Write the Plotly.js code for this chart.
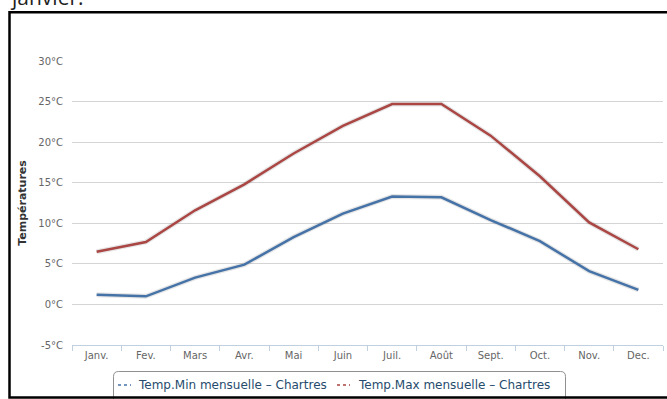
<!DOCTYPE html>
<html>
<head>
<meta charset="utf-8">
<script src="https://cdn.plot.ly/plotly-3.0.1.min.js"></script>
<style>
  html, body { margin: 0; padding: 0; background: #ffffff; }
  #chart { width: 667px; height: 399px; }
</style>
</head>
<body>
<div id="chart"></div>
<script>
// ---- data ----
const months = ['Janv.', 'Fev.', 'Mars', 'Avr.', 'Mai', 'Juin', 'Juil.', 'Août', 'Sept.', 'Oct.', 'Nov.', 'Dec.'];
const tempMin = [1.2, 1.0, 3.3, 4.9, 8.3, 11.2, 13.3, 13.2, 10.4, 7.8, 4.1, 1.8];
const tempMax = [6.5, 7.7, 11.6, 14.8, 18.6, 22.0, 24.7, 24.7, 20.8, 15.8, 10.1, 6.8];
const seriesNames = ['Temp.Min mensuelle – Chartres', 'Temp.Max mensuelle – Chartres'];
const yTicks = [-5, 0, 5, 10, 15, 20, 25, 30];
const yTickText = yTicks.map(v => v + '°C');
const pageText = 'janvier.';
const yTitle = 'Températures';

// ---- layout geometry (pixels) ----
const W = 667, H = 399;
const L = 72, R = 4, T = 61, B = 54;
const pw = W - L - R, ph = H - T - B;
const px = x => (x - L) / pw;          // pixel -> paper x
const py = y => (H - B - y) / ph;      // pixel -> paper y

const blue = '#4572A7', red = '#AA4643';
const colors = [blue, red];
const series = [tempMin, tempMax];

const traces = [];
// soft shadow under each line
series.forEach((s) => {
  traces.push({
    x: months, y: s, type: 'scatter', mode: 'lines',
    line: { color: 'rgba(0,0,0,0.10)', width: 5 },
    showlegend: false, hoverinfo: 'skip'
  });
});
series.forEach((s, i) => {
  traces.push({
    x: months, y: s, type: 'scatter', mode: 'lines', name: seriesNames[i],
    line: { color: colors[i], width: 2.5 },
    showlegend: false
  });
});

// rounded legend box
function roundRect(x0, y0, x1, y1, r) {
  return `M${px(x0 + r)},${py(y0)} L${px(x1 - r)},${py(y0)} Q${px(x1)},${py(y0)} ${px(x1)},${py(y0 + r)} ` +
         `L${px(x1)},${py(y1)} L${px(x0)},${py(y1)} L${px(x0)},${py(y0 + r)} Q${px(x0)},${py(y0)} ${px(x0 + r)},${py(y0)} Z`;
}

// legend (symbol + label per series)
const legendY = 385;
const legendItems = [
  { sx: 118, tx: 136 },
  { sx: 337, tx: 356 }
];
const legendShapes = legendItems.map((it, i) => ({
  type: 'line', xref: 'paper', yref: 'paper',
  x0: px(it.sx), x1: px(it.sx + 13), y0: py(legendY), y1: py(legendY),
  line: { color: colors[i], width: 1.5, dash: 'dot' }
}));
const legendAnnots = legendItems.map((it, i) => ({
  text: seriesNames[i], xref: 'paper', yref: 'paper',
  x: px(it.tx), xanchor: 'left', y: py(legendY), yanchor: 'middle',
  showarrow: false, font: { size: 12, color: '#274b6d' }
}));

const layout = {
  width: W, height: H,
  margin: { l: L, r: R, t: T, b: B, pad: 0 },
  paper_bgcolor: '#ffffff', plot_bgcolor: '#ffffff',
  font: { family: 'DejaVu Sans, Verdana, sans-serif', color: '#666666', size: 10 },
  showlegend: false,
  xaxis: {
    type: 'category', categoryorder: 'array', categoryarray: months,
    range: [-0.5, months.length - 0.5],
    showgrid: false, zeroline: false,
    showline: true, linecolor: '#C0D0E0', linewidth: 1,
    ticks: 'outside', tickson: 'boundaries', ticklen: 5, tickcolor: '#C0D0E0',
    tickfont: { size: 10, color: '#666666' }, ticklabelstandoff: 1,
    fixedrange: true
  },
  yaxis: {
    range: [-5, 30], tickmode: 'array', tickvals: yTicks, ticktext: yTickText,
    showgrid: true, gridcolor: '#D4D4D4', gridwidth: 1,
    zeroline: false, showline: false, ticks: '',
    ticklabelstandoff: 8,
    tickfont: { size: 10, color: '#666666' },
    title: { text: yTitle, font: { size: 11, color: '#333333', weight: 'bold' }, standoff: 9 },
    fixedrange: true
  },
  shapes: [
    // outer black frame of the page block
    { type: 'rect', xref: 'paper', yref: 'paper', x0: px(9.5), x1: px(675), y0: py(12.3), y1: py(397.5),
      line: { color: '#000000', width: 2.5 }, fillcolor: 'rgba(0,0,0,0)', layer: 'above' },
    // legend box
    { type: 'path', xref: 'paper', yref: 'paper', path: roundRect(113.5, 371.5, 565.5, 402, 5),
      line: { color: '#909090', width: 1 }, fillcolor: 'rgba(0,0,0,0)', layer: 'below' }
  ].concat(legendShapes),
  annotations: [
    { text: pageText, xref: 'paper', yref: 'paper', x: px(8), xanchor: 'left', y: py(13), yanchor: 'bottom',
      showarrow: false, font: { family: 'Open Sans, sans-serif', size: 21, color: '#222222' } }
  ].concat(legendAnnots)
};

Plotly.newPlot('chart', traces, layout, { displayModeBar: false, staticPlot: true });
</script>
</body>
</html>
